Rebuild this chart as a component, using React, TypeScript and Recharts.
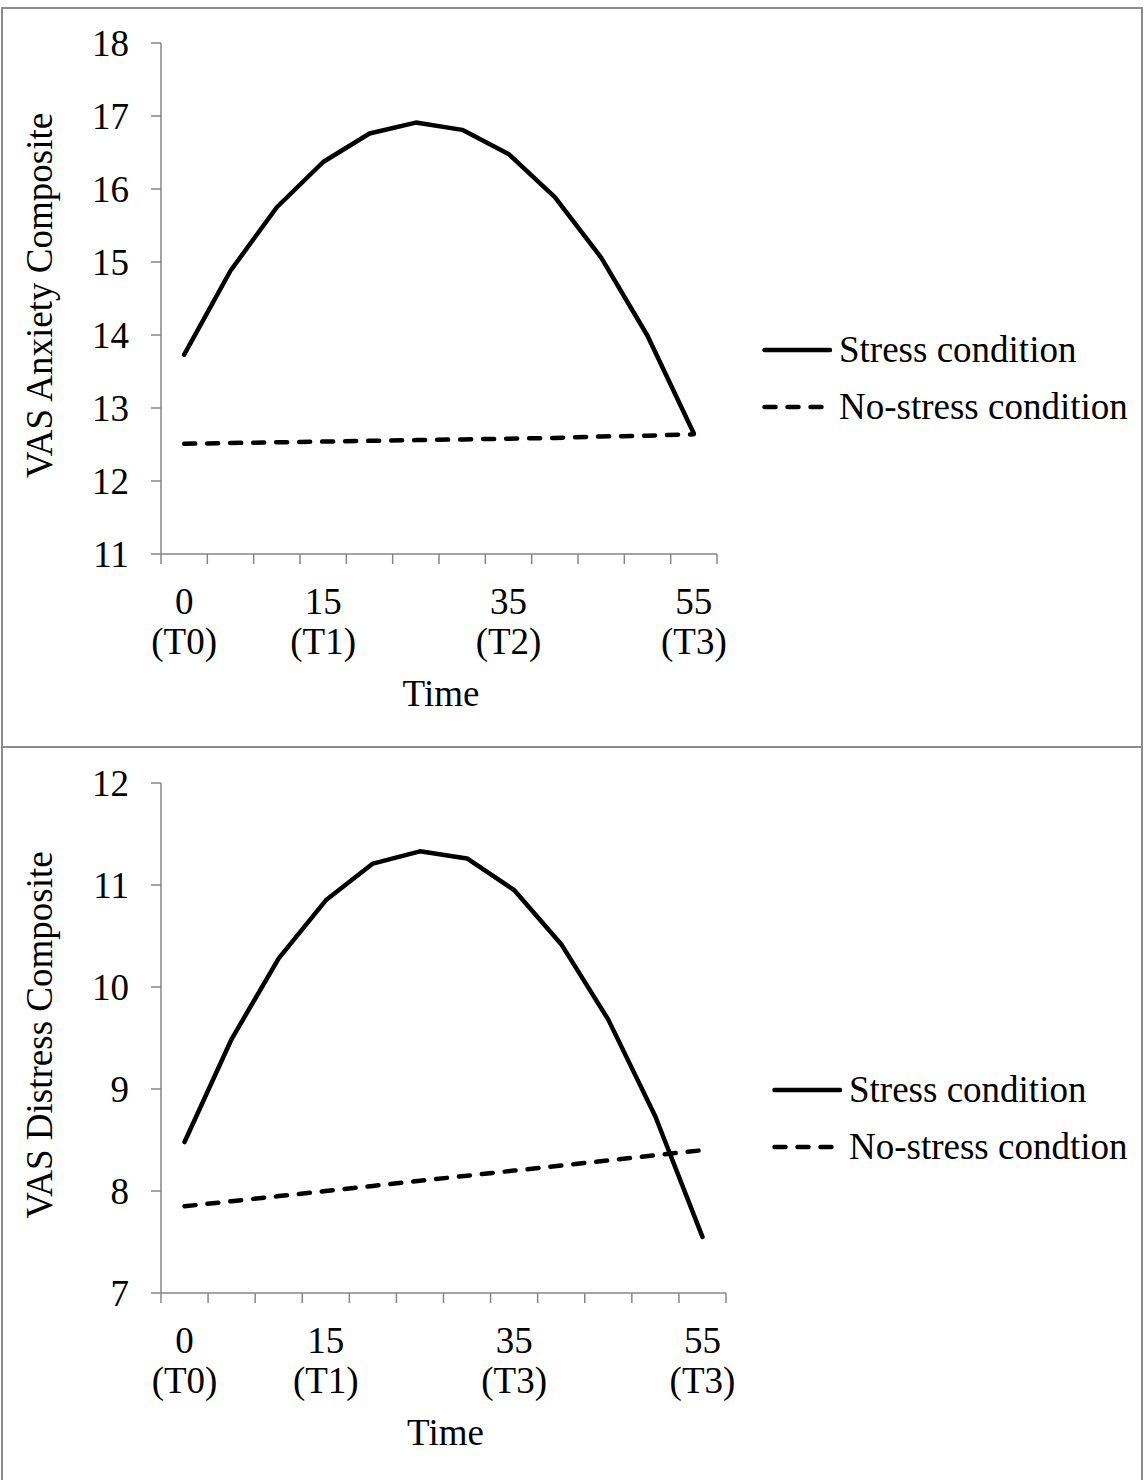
import React from 'react';
import { LineChart, Line, XAxis, YAxis, Legend } from 'recharts';

// ---- Data ----
const times = [0, 5, 10, 15, 20, 25, 30, 35, 40, 45, 50, 55];
const anxietyStress = [13.73, 14.88, 15.75, 16.37, 16.76, 16.91, 16.81, 16.48, 15.89, 15.06, 13.99, 12.65];
const anxietyNoStress = [12.51, 12.52, 12.53, 12.54, 12.55, 12.56, 12.57, 12.58, 12.59, 12.61, 12.62, 12.64];
const distressStress = [8.48, 9.49, 10.28, 10.85, 11.21, 11.33, 11.26, 10.95, 10.42, 9.68, 8.73, 7.55];
const distressNoStress = [7.85, 7.9, 7.95, 8.0, 8.05, 8.1, 8.15, 8.2, 8.25, 8.3, 8.35, 8.4];
const labelTimes = [0, 15, 35, 55];
const anxietyPhases = ['(T0)', '(T1)', '(T2)', '(T3)'];
const distressPhases = ['(T0)', '(T1)', '(T3)', '(T3)'];
const anxietyTicks = [11, 12, 13, 14, 15, 16, 17, 18];
const distressTicks = [7, 8, 9, 10, 11, 12];
const boundaryTicks = [-2.5, 2.5, 7.5, 12.5, 17.5, 22.5, 27.5, 32.5, 37.5, 42.5, 47.5, 52.5, 57.5];
const anxietyNames = ['Stress condition', 'No-stress condition'];
const distressNames = ['Stress condition', 'No-stress condtion'];
const seriesOrder = ['stress', 'nostress'];

const FONT = '"Liberation Serif", "Times New Roman", serif';
const FS = 37;
const AXIS = '#868686';

const buildRows = (s: number[], n: number[]) =>
  times.map((t, i) => ({ time: t, stress: s[i], nostress: n[i] }));

const anxietyRows = buildRows(anxietyStress, anxietyNoStress);
const distressRows = buildRows(distressStress, distressNoStress);

const allXTicks = [...boundaryTicks, ...labelTimes].sort((a, b) => a - b);

function makeTick(phases: string[]) {
  return (props: any) => {
    const { x, y, payload } = props;
    const v = payload.value;
    if (boundaryTicks.includes(v)) {
      return <line x1={x} y1={y} x2={x} y2={y + 10} stroke={AXIS} strokeWidth={1.5} />;
    }
    const idx = labelTimes.indexOf(v);
    return (
      <g>
        <text x={x} y={y + 60} textAnchor="middle" fontFamily={FONT} fontSize={FS} fill="#000">
          {String(v)}
        </text>
        <text x={x} y={y + 100} textAnchor="middle" fontFamily={FONT} fontSize={FS} fill="#000">
          {phases[idx]}
        </text>
      </g>
    );
  };
}

const LegendContent = (props: any) => {
  const items = [...(props.payload || [])].sort(
    (a: any, b: any) => seriesOrder.indexOf(a.dataKey) - seriesOrder.indexOf(b.dataKey)
  );
  return (
    <div style={{ fontFamily: FONT, fontSize: FS, color: '#000' }}>
      {items.map((entry: any, i: number) => {
        const dashed = entry.dataKey === 'nostress';
        return (
          <div key={i} style={{ display: 'flex', alignItems: 'center', height: 57, whiteSpace: 'nowrap' }}>
            <svg width={70} height={20} style={{ display: 'block', marginRight: 7 }}>
              {dashed ? (
                <line x1={2.5} y1={10} x2={60} y2={10} stroke="#000" strokeWidth={4.5}
                  strokeDasharray="11 12" strokeLinecap="round" />
              ) : (
                <line x1={2.5} y1={10} x2={68} y2={10} stroke="#000" strokeWidth={4.5} strokeLinecap="round" />
              )}
            </svg>
            <span style={{ lineHeight: 1 }}>{entry.value}</span>
          </div>
        );
      })}
    </div>
  );
};

type PanelProps = {
  top: number;
  height: number;
  rows: any[];
  yDomain: [number, number];
  yTicks: number[];
  phases: string[];
  yTitle: string;
  names: string[];
  marginRight: number;
  marginBottom: number;
  legendLeft: number;
  legendTop: number;
};

function Panel(p: PanelProps) {
  const yLabel = (lp: any) => {
    const vb = lp.viewBox || {};
    const cx = 52;
    const cy = vb.y + vb.height / 2 - 3;
    return (
      <text x={cx} y={cy} transform={`rotate(-90 ${cx} ${cy})`} textAnchor="middle"
        fontFamily={FONT} fontSize={FS} fill="#000">
        {p.yTitle}
      </text>
    );
  };
  const xLabel = (lp: any) => {
    const vb = lp.viewBox || {};
    return (
      <text x={vb.x + vb.width / 2 + 2} y={vb.y + 152} textAnchor="middle"
        fontFamily={FONT} fontSize={FS} fill="#000">
        Time
      </text>
    );
  };
  return (
    <div style={{ position: 'absolute', left: 0, top: p.top, width: 1144, height: p.height }}>
      <LineChart
        width={1144}
        height={p.height}
        data={p.rows}
        margin={{ top: 36, right: p.marginRight, bottom: p.marginBottom, left: 0 }}
      >
        <XAxis
          dataKey="time"
          type="number"
          domain={[-2.5, 57.5]}
          ticks={allXTicks}
          interval={0}
          tickSize={0}
          tickMargin={0}
          tickLine={false}
          height={160}
          axisLine={{ stroke: AXIS, strokeWidth: 1.5 }}
          tick={makeTick(p.phases)}
          label={xLabel}
          allowDecimals
        />
        <YAxis
          type="number"
          domain={p.yDomain}
          ticks={p.yTicks}
          interval={0}
          width={161}
          tickSize={10}
          tickMargin={22}
          axisLine={{ stroke: AXIS, strokeWidth: 1.5 }}
          tickLine={{ stroke: AXIS, strokeWidth: 1.5 }}
          tick={{ fontFamily: FONT, fontSize: FS, fill: '#000' }}
          label={yLabel}
        />
        <Legend
          layout="vertical"
          align="center"
          verticalAlign="middle"
          content={LegendContent}
          wrapperStyle={{ left: p.legendLeft, top: p.legendTop, width: 380, height: 'auto' }}
        />
        <Line
          type="linear"
          dataKey="stress"
          name={p.names[0]}
          stroke="#000"
          strokeWidth={4.5}
          strokeLinecap="round"
          strokeLinejoin="round"
          dot={false}
          activeDot={false}
          isAnimationActive={false}
        />
        <Line
          type="linear"
          dataKey="nostress"
          name={p.names[1]}
          stroke="#000"
          strokeWidth={4.5}
          strokeDasharray="11 12"
          strokeLinecap="round"
          strokeLinejoin="round"
          dot={false}
          activeDot={false}
          isAnimationActive={false}
        />
      </LineChart>
    </div>
  );
}

export default function App() {
  const border = '#8c8c8c';
  return (
    <div style={{ position: 'absolute', left: 0, top: 0, width: 1144, height: 1480, background: '#fff', overflow: 'hidden' }}>
      <Panel
        top={7}
        height={740}
        rows={anxietyRows}
        yDomain={[11, 18]}
        yTicks={anxietyTicks}
        phases={anxietyPhases}
        yTitle="VAS Anxiety Composite"
        names={anxietyNames}
        marginRight={427}
        marginBottom={33}
        legendLeft={762}
        legendTop={314}
      />
      <Panel
        top={747}
        height={733}
        rows={distressRows}
        yDomain={[7, 12]}
        yTicks={distressTicks}
        phases={distressPhases}
        yTitle="VAS Distress Composite"
        names={distressNames}
        marginRight={418}
        marginBottom={27}
        legendLeft={772}
        legendTop={314}
      />
      {/* panel frames */}
      <div style={{ position: 'absolute', left: 1, top: 7, width: 1141, height: 2, background: border }} />
      <div style={{ position: 'absolute', left: 1, top: 746, width: 1141, height: 2, background: border }} />
      <div style={{ position: 'absolute', left: 1, top: 7, width: 2, height: 1473, background: border }} />
      <div style={{ position: 'absolute', left: 1141, top: 7, width: 2, height: 1473, background: border }} />
    </div>
  );
}
